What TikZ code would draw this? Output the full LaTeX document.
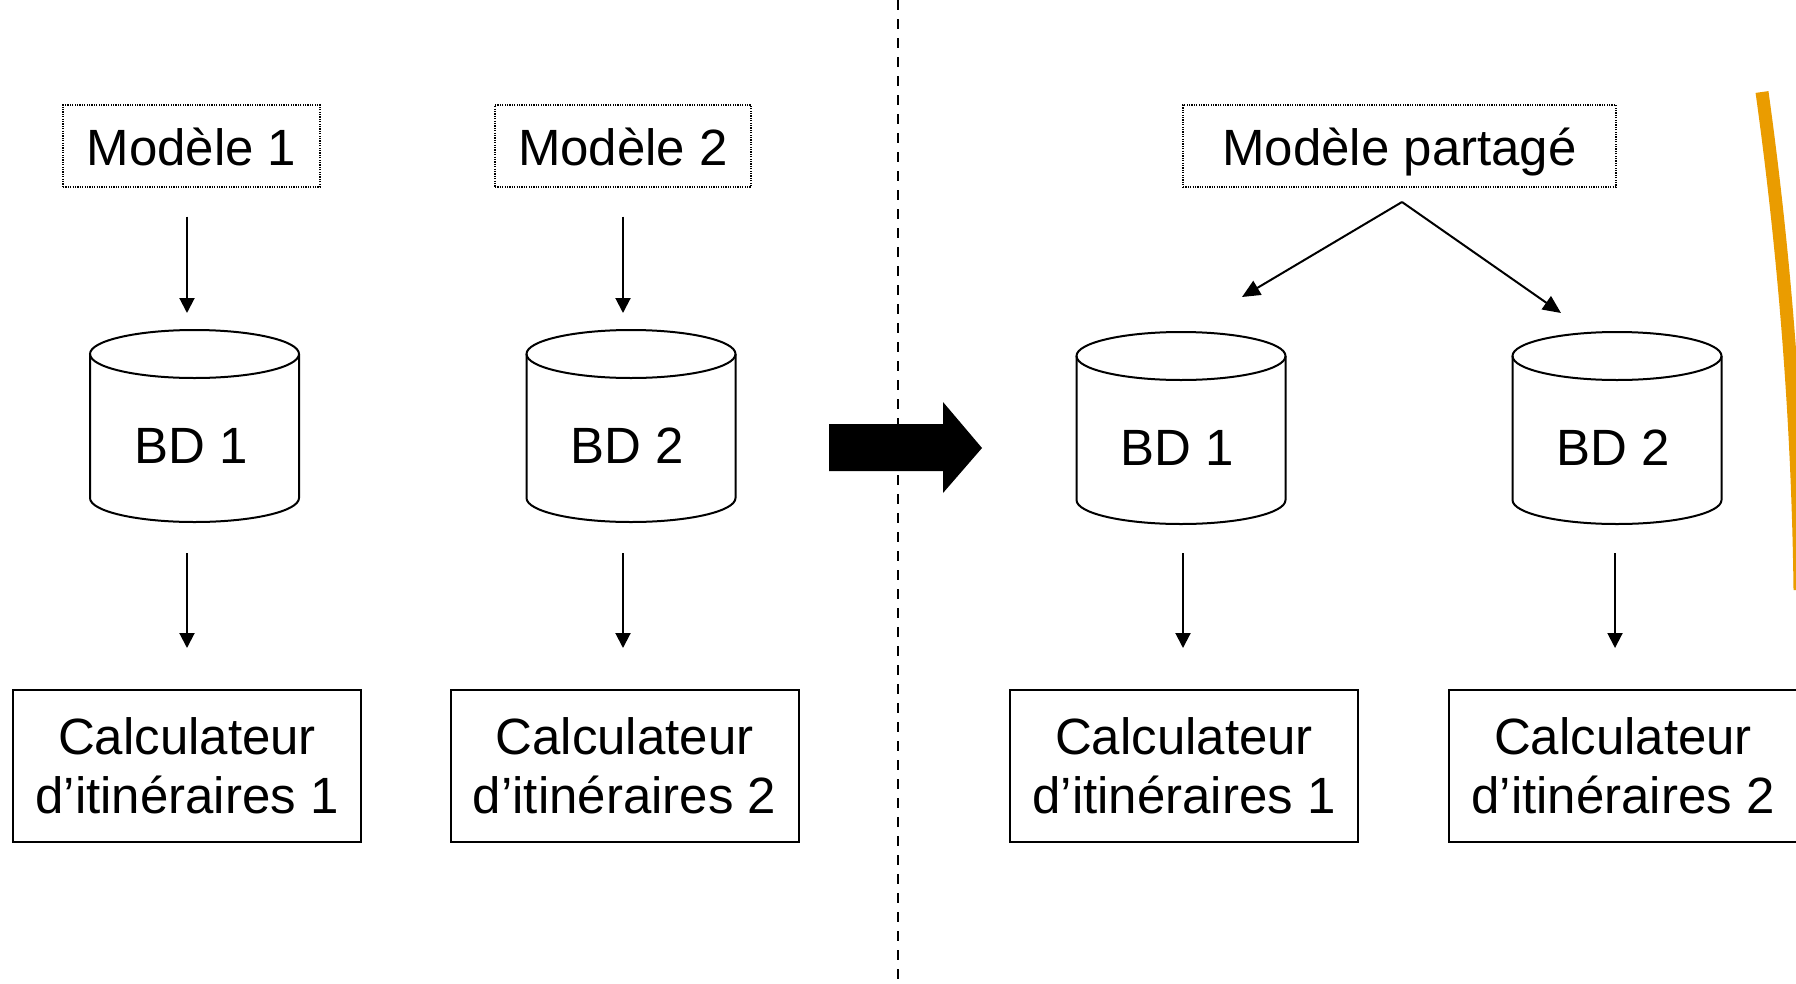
\documentclass[tikz,border=0pt]{standalone}
\usepackage{fontspec}
\setmainfont{Liberation Sans}
\usetikzlibrary{arrows.meta}
\definecolor{orng}{RGB}{234,156,0}
\newcommand\drawdb[1]{%
  \draw[dbline] (#1.north west) ++(0pt,-24pt) -- ++(0pt,-144pt)
     arc[start angle=180,end angle=360,x radius=104.5pt,y radius=24pt] -- ++(0pt,144pt);
  \draw[dbline] ([yshift=-24pt]#1.north) ellipse[x radius=104.5pt,y radius=24pt];}
\tikzset{
  bigfont/.style={font=\fontsize{51}{59}\selectfont},
  modelbox/.style={bigfont, draw, line width=1.4pt, dash pattern=on 1.2pt off 1.2pt,
     inner sep=0pt, minimum height=82pt, text height=46pt, text depth=7pt},
  calcbox/.style={bigfont, draw, line width=2pt, align=center, inner sep=0pt,
     minimum width=348pt, minimum height=152pt},
  dbbody/.style={inner sep=0pt, outer sep=0pt, minimum width=209pt, minimum height=192pt},
  dbline/.style={line width=2pt},
  dblabel/.style={bigfont, anchor=base, inner sep=0pt},
  arr/.style={line width=2pt, -{Triangle[width=15pt,length=15pt]}},
  sarr/.style={line width=2pt, -{Triangle[width=16pt,length=18pt]}},
}
\begin{document}
\begin{tikzpicture}[x=1pt,y=-1pt]
\useasboundingbox (0,0) rectangle (1796,983);
\clip (0,0) rectangle (1796,983);
% separator
\coordinate (septop) at (898,0);
\coordinate (sepbot) at (898,983);
\draw[line width=2.6pt, dash pattern=on 10pt off 9pt] (septop) -- (sepbot);
% big arrow
\fill[black] (829,424) -- (943,424) -- (943,402) -- (982,448) -- (943,493) -- (943,471) -- (829,471) -- cycle;
% models
\node[modelbox, minimum width=257pt] (m1) at (191.5,146) {Modèle 1};
\node[modelbox, minimum width=256pt] (m2) at (623,146) {Modèle 2};
\node[modelbox, minimum width=433pt] (mp) at (1399.5,146) {Modèle partagé};
% databases
\node[dbbody] (bd1) at (194.5,426) {};
\node[dbbody] (bd2) at (631,426) {};
\node[dbbody] (rbd1) at (1181,428) {};
\node[dbbody] (rbd2) at (1617,428) {};
\drawdb{bd1}\drawdb{bd2}\drawdb{rbd1}\drawdb{rbd2}
\node[dblabel] (bd1t) at (191,463) {BD 1};
\node[dblabel] (bd2t) at (627.5,463) {BD 2};
\node[dblabel] (rbd1t) at (1177.5,465) {BD 1};
\node[dblabel] (rbd2t) at (1613.5,465) {BD 2};
% calculators
\node[calcbox] (c1) at (187,766) {Calculateur\\d’itinéraires 1};
\node[calcbox] (c2) at (624.5,766) {Calculateur\\d’itinéraires 2};
\node[calcbox] (rc1) at (1184,766) {Calculateur\\d’itinéraires 1};
\node[calcbox] (rc2) at (1623,766) {Calculateur\\d’itinéraires 2};
% arrow columns
\coordinate (ax1) at (187,0);
\coordinate (ax2) at (623,0);
\coordinate (ax3) at (1183,0);
\coordinate (ax4) at (1615,0);
\draw[arr, shorten <=29pt, shorten >=17pt] (m1.south -| ax1) -- (bd1.north -| ax1);
\draw[arr, shorten <=29pt, shorten >=17pt] (m2.south -| ax2) -- (bd2.north -| ax2);
\draw[arr, shorten <=31pt, shorten >=41pt] (bd1.south -| ax1) -- (c1.north -| ax1);
\draw[arr, shorten <=31pt, shorten >=41pt] (bd2.south -| ax2) -- (c2.north -| ax2);
\draw[arr, shorten <=29pt, shorten >=41pt] (rbd1.south -| ax3) -- (rc1.north -| ax3);
\draw[arr, shorten <=29pt, shorten >=41pt] (rbd2.south -| ax4) -- (rc2.north -| ax4);
% shared model split
\coordinate (split) at (1402,202);
\coordinate (t1) at (1242,297);
\coordinate (t2) at (1561,313);
\draw[sarr] (split) -- (t1);
\draw[sarr] (split) -- (t2);
% orange arc
\coordinate (oa) at (1762,92);
\coordinate (ob) at (1800,590);
\draw[orng, line width=13pt] (oa) .. controls (1784,250) and (1798,420) .. (ob);
\end{tikzpicture}
\end{document}
